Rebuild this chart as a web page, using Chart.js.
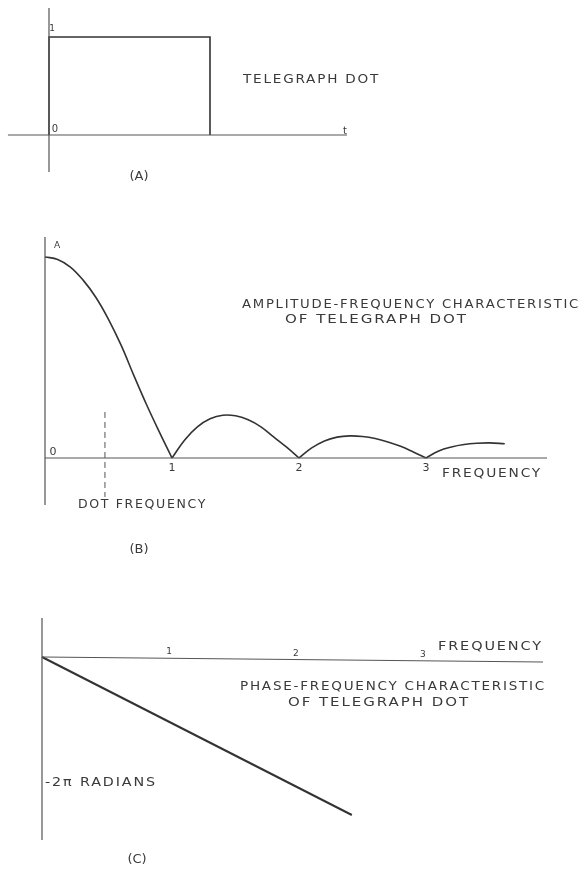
<!DOCTYPE html>
<html>
<head>
<meta charset="utf-8">
<script src="https://cdn.jsdelivr.net/npm/chart.js@4.4.1/dist/chart.umd.min.js"></script>
<style>
  html, body { margin: 0; padding: 0; background: #fff; }
  #wrap { position: relative; width: 584px; height: 874px; }
  canvas { position: absolute; left: 0; }
</style>
</head>
<body>
<div id="wrap">
  <canvas id="dot" width="584" height="200" style="top:0"></canvas>
  <canvas id="amp" width="584" height="380" style="top:200px"></canvas>
  <canvas id="phase" width="584" height="294" style="top:580px"></canvas>
</div>
<script>
// (A) telegraph dot: unit height, unit length
const dotTime = [0, 0, 1, 1];
const dotLevel = [0, 1, 1, 0];

// (B) amplitude vs frequency (A = 1), one list per lobe
const lobe1Freq = [0, 0.1, 0.2, 0.3, 0.4, 0.5, 0.6, 0.7, 0.8, 0.9, 1.0];
const lobe1Amp = [1.0, 0.988, 0.95, 0.885, 0.8, 0.69, 0.56, 0.41, 0.265, 0.13, 0];
const lobe2Freq = [1.0, 1.1, 1.2, 1.3, 1.4, 1.5, 1.6, 1.7, 1.8, 1.9, 2.0];
const lobe2Amp = [0, 0.09, 0.155, 0.195, 0.213, 0.21, 0.19, 0.155, 0.105, 0.055, 0];
const lobe3Freq = [2.0, 2.1, 2.2, 2.3, 2.4, 2.5, 2.6, 2.7, 2.8, 2.9, 3.0];
const lobe3Amp = [0, 0.05, 0.085, 0.104, 0.11, 0.107, 0.097, 0.08, 0.058, 0.03, 0];
const lobe4Freq = [3.0, 3.1, 3.2, 3.3, 3.4, 3.5, 3.62];
const lobe4Amp = [0, 0.035, 0.055, 0.067, 0.073, 0.075, 0.071];
const dotFreq = 0.472;

// (C) phase vs frequency, radians
const phaseFreq = [0, 2.44];
const phaseRad = [0, -7.67];

const freqTicks = [1, 2, 3];
const tickLabels = ['1', '2', '3'];

const INK = '#333';
const AXIS = '#555';
const FONT = '"DejaVu Sans", sans-serif';

function pts(xs, ys) {
  return xs.map((x, i) => ({ x: x, y: ys[i] }));
}

function line(data, extra) {
  return Object.assign({
    data: data, showLine: true, pointRadius: 0, borderColor: AXIS,
    borderWidth: 1.2, fill: false
  }, extra || {});
}

function curve(xs, ys) {
  return line(pts(xs, ys), { borderColor: INK, borderWidth: 1.6, tension: 0.4 });
}

// hand lettering; x/y in canvas pixels, ticks placed through the x scale
const notesPlugin = {
  id: 'notes',
  afterDatasetsDraw(chart, args, opts) {
    const ctx = chart.ctx;
    ctx.save();
    ctx.fillStyle = '#3a3a3a';
    ctx.textBaseline = 'middle';
    (opts.items || []).forEach(n => {
      ctx.font = (n.size || 11) + 'px ' + FONT;
      if (n.w) {
        ctx.letterSpacing = '1.5px';
        const w = ctx.measureText(n.t).width;
        ctx.save();
        ctx.translate(n.x, n.y);
        ctx.scale(n.w / w, 1);
        ctx.textAlign = 'left';
        ctx.fillText(n.t, 0, 0);
        ctx.restore();
      } else {
        ctx.letterSpacing = '0px';
        ctx.textAlign = n.align || 'center';
        ctx.fillText(n.t, n.x, n.y);
      }
    });
    ctx.letterSpacing = '0px';
    if (opts.ticks) {
      ctx.font = (opts.ticks.size || 10) + 'px ' + FONT;
      ctx.textAlign = 'center';
      freqTicks.forEach((v, i) => {
        const px = chart.scales.x.getPixelForValue(v);
        ctx.fillText(tickLabels[i], px, opts.ticks.y + (opts.ticks.slope || 0) * i);
      });
    }
    ctx.restore();
  }
};

function baseOptions(xmin, xmax, ymin, ymax, notes) {
  return {
    responsive: false,
    animation: false,
    devicePixelRatio: 1,
    layout: { padding: 0 },
    plugins: { legend: { display: false }, tooltip: { enabled: false }, notes: notes },
    scales: {
      x: { type: 'linear', min: xmin, max: xmax, display: false },
      y: { type: 'linear', min: ymin, max: ymax, display: false }
    }
  };
}

// (A)
new Chart(document.getElementById('dot'), {
  type: 'scatter',
  data: {
    datasets: [
      line([{ x: -0.255, y: 0 }, { x: 1.851, y: 0 }]),
      line([{ x: 0, y: 1.296 }, { x: 0, y: -0.378 }]),
      line(pts(dotTime, dotLevel), { borderColor: INK, borderWidth: 1.6 })
    ]
  },
  options: baseOptions(-0.3043, 3.323, -0.6633, 1.3776, {
    items: [
      { t: '1', x: 52, y: 29, size: 9 },
      { t: '0', x: 55, y: 129, size: 10 },
      { t: 't', x: 345, y: 131, size: 10 },
      { t: 'TELEGRAPH DOT', x: 243, y: 80, w: 137, size: 11.5 },
      { t: '(A)', x: 139, y: 177, size: 13 }
    ]
  }),
  plugins: [notesPlugin]
});

// (B)
new Chart(document.getElementById('amp'), {
  type: 'scatter',
  data: {
    datasets: [
      line([{ x: 0, y: 0 }, { x: 3.953, y: 0 }]),
      line([{ x: 0, y: 1.0995 }, { x: 0, y: -0.2338 }]),
      line([{ x: dotFreq, y: 0.229 }, { x: dotFreq, y: -0.194 }], { borderDash: [6, 4], borderWidth: 1 }),
      curve(lobe1Freq, lobe1Amp),
      curve(lobe2Freq, lobe2Amp),
      curve(lobe3Freq, lobe3Amp),
      curve(lobe4Freq, lobe4Amp)
    ]
  },
  options: baseOptions(-0.3543, 4.244, -0.607, 1.2836, {
    items: [
      { t: 'A', x: 57, y: 46, size: 9 },
      { t: '0', x: 53, y: 252, size: 11 },
      { t: 'FREQUENCY', x: 442, y: 274, w: 100, size: 11.5 },
      { t: 'DOT FREQUENCY', x: 78, y: 305, w: 129, size: 11.5 },
      { t: 'AMPLITUDE-FREQUENCY CHARACTERISTIC', x: 242, y: 105, w: 338, size: 11.5 },
      { t: 'OF TELEGRAPH DOT', x: 285, y: 120, w: 183, size: 11.5 },
      { t: '(B)', x: 139, y: 350, size: 13 }
    ],
    ticks: { y: 268, size: 11 }
  }),
  plugins: [notesPlugin]
});

// (C)
new Chart(document.getElementById('phase'), {
  type: 'scatter',
  data: {
    datasets: [
      line([{ x: 0, y: 0 }, { x: 3.945, y: -0.243 }]),
      line([{ x: 0, y: 1.893 }, { x: 0, y: -8.883 }]),
      line(pts(phaseFreq, phaseRad), { borderColor: INK, borderWidth: 2 })
    ]
  },
  options: baseOptions(-0.3307, 4.268, -10.534, 3.738, {
    items: [
      { t: 'FREQUENCY', x: 438, y: 67, w: 105, size: 11.5 },
      { t: 'PHASE-FREQUENCY CHARACTERISTIC', x: 240, y: 107, w: 306, size: 11.5 },
      { t: 'OF TELEGRAPH DOT', x: 288, y: 123, w: 182, size: 11.5 },
      { t: '-2\u03C0 RADIANS', x: 45, y: 203, w: 112, size: 11.5 },
      { t: '(C)', x: 137, y: 280, size: 13 }
    ],
    ticks: { y: 72, size: 9, slope: 1.5 }
  }),
  plugins: [notesPlugin]
});
</script>
</body>
</html>
